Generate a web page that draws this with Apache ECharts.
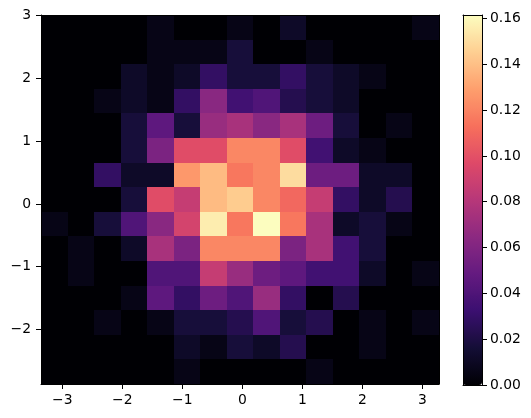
<!DOCTYPE html>
<html><head><meta charset="utf-8">
<script src="https://cdn.jsdelivr.net/npm/echarts@6/dist/echarts.min.js"></script>
<style>html,body{margin:0;padding:0;background:#fff}#chart{width:531px;height:418px}</style>
</head><body><div id="chart"></div>
<script>
// bin edges (x: left->right, y: bottom->top)
const xEdges = [-3.355, -2.913, -2.471, -2.028, -1.586, -1.144, -0.702, -0.259, 0.183, 0.625, 1.067, 1.510, 1.952, 2.394, 2.836, 3.278];
const yEdges = [-2.870, -2.478, -2.086, -1.694, -1.302, -0.910, -0.518, -0.126, 0.266, 0.658, 1.050, 1.442, 1.834, 2.226, 2.618, 3.010];
// density per bin, rows from top (high y) to bottom, columns left to right
const density = [
  [0,0,0,0,0.0058,0,0,0.0058,0,0.0115,0,0,0,0,0.0058],
  [0,0,0,0,0.0058,0.0058,0.0058,0.0173,0,0,0.0058,0,0,0,0],
  [0,0,0,0.0115,0.0058,0.0115,0.0288,0.0173,0.0173,0.0288,0.0173,0.0115,0.0058,0,0],
  [0,0,0.0058,0.0115,0.0058,0.0288,0.0635,0.0346,0.0404,0.0231,0.0173,0.0115,0,0,0],
  [0,0,0,0.0173,0.0462,0.0173,0.0692,0.0750,0.0635,0.0750,0.0519,0.0173,0,0.0058,0],
  [0,0,0,0.0173,0.0577,0.0981,0.0981,0.1211,0.1211,0.0981,0.0346,0.0115,0.0058,0,0],
  [0,0,0.0288,0.0115,0.0115,0.1269,0.1385,0.1154,0.1211,0.1500,0.0519,0.0519,0.0115,0.0115,0],
  [0,0,0,0.0173,0.0981,0.0865,0.1385,0.1442,0.1211,0.1096,0.0865,0.0288,0.0115,0.0231,0],
  [0.0058,0,0.0173,0.0404,0.0635,0.0923,0.1558,0.1154,0.1615,0.1154,0.0750,0.0115,0.0173,0.0058,0],
  [0,0.0058,0,0.0115,0.0750,0.0577,0.1211,0.1211,0.1211,0.0577,0.0750,0.0346,0.0173,0,0],
  [0,0.0058,0,0,0.0404,0.0404,0.0865,0.0692,0.0519,0.0462,0.0346,0.0346,0.0115,0,0.0058],
  [0,0,0,0.0058,0.0462,0.0288,0.0519,0.0404,0.0692,0.0288,0,0.0231,0,0,0],
  [0,0,0.0058,0,0.0058,0.0173,0.0173,0.0231,0.0404,0.0173,0.0231,0,0.0058,0,0.0058],
  [0,0,0,0,0,0.0115,0.0058,0.0173,0.0115,0.0231,0,0,0.0058,0,0],
  [0,0,0,0,0,0.0058,0,0,0,0,0.0058,0,0,0,0]
];
const xTicks = [-3, -2, -1, 0, 1, 2, 3];
const yTicks = [-2, -1, 0, 1, 2, 3];
const cbTicks = [0, 0.02, 0.04, 0.06, 0.08, 0.10, 0.12, 0.14, 0.16];
const vmax = 0.1615;
const magma = ['#000004','#140e36','#3b0f70','#641a80','#8c2981','#b73779','#de4968','#f7705c','#fe9f6d','#fecf92','#fcfdbf'];

const nRows = density.length;
const cells = [];
density.forEach((row, r) => row.forEach((v, c) => {
  cells.push([xEdges[c], xEdges[c + 1], yEdges[nRows - 1 - r], yEdges[nRows - r], v]);
}));

const font = { fontFamily: 'DejaVu Sans', fontSize: 13.9, color: '#000' };
const minusFmt = v => (v < 0 ? '\u2212' : '') + Math.abs(v);
const line = { show: true, onZero: false, lineStyle: { color: '#000', width: 1 } };
const bare = (extra) => Object.assign({
  type: 'value', axisLine: line, axisTick: { show: false }, axisLabel: { show: false },
  splitLine: { show: false }, z: 10
}, extra);

const chart = echarts.init(document.getElementById('chart'), null, { renderer: 'canvas' });
chart.setOption({
  animation: false,
  backgroundColor: '#fff',
  grid: [
    { left: 41, top: 15, width: 398, height: 369 },
    { left: 463, top: 15, width: 19, height: 370 }
  ],
  xAxis: [
    bare({ gridIndex: 0, min: xEdges[0], max: xEdges[xEdges.length - 1], position: 'bottom',
      axisTick: { show: true, inside: false, length: 5, customValues: xTicks, lineStyle: { color: '#000', width: 1 } },
      axisLabel: Object.assign({ show: true, customValues: xTicks, margin: 9, formatter: minusFmt }, font) }),
    bare({ gridIndex: 0, min: xEdges[0], max: xEdges[xEdges.length - 1], position: 'top' }),
    bare({ gridIndex: 1, min: 0, max: 1, position: 'bottom' }),
    bare({ gridIndex: 1, min: 0, max: 1, position: 'top' })
  ],
  yAxis: [
    bare({ gridIndex: 0, min: yEdges[0], max: yEdges[yEdges.length - 1], position: 'left',
      axisTick: { show: true, inside: false, length: 5, customValues: yTicks, lineStyle: { color: '#000', width: 1 } },
      axisLabel: Object.assign({ show: true, customValues: yTicks, margin: 10, formatter: minusFmt }, font) }),
    bare({ gridIndex: 0, min: yEdges[0], max: yEdges[yEdges.length - 1], position: 'right' }),
    bare({ gridIndex: 1, min: 0, max: vmax, position: 'left' }),
    bare({ gridIndex: 1, min: 0, max: vmax, position: 'right',
      axisTick: { show: true, inside: false, length: 5, customValues: cbTicks, lineStyle: { color: '#000', width: 1 } },
      axisLabel: Object.assign({ show: true, customValues: cbTicks, margin: 8, formatter: v => v.toFixed(2) }, font) })
  ],
  visualMap: {
    type: 'continuous', min: 0, max: vmax, dimension: 4, seriesIndex: 0,
    calculable: false, orient: 'vertical', left: 463, top: 15,
    itemWidth: 19, itemHeight: 370, padding: 0, text: null, hoverLink: false,
    inRange: { color: magma }
  },
  series: [{
    type: 'custom', xAxisIndex: 0, yAxisIndex: 0, clip: true,
    encode: { x: [0, 1], y: [2, 3] },
    data: cells,
    renderItem: (params, api) => {
      const p0 = api.coord([api.value(0), api.value(3)]);
      const p1 = api.coord([api.value(1), api.value(2)]);
      const x0 = Math.round(p0[0]), y0 = Math.round(p0[1]);
      const x1 = Math.round(p1[0]), y1 = Math.round(p1[1]);
      return { type: 'rect', shape: { x: x0, y: y0, width: x1 - x0, height: y1 - y0 },
        style: { fill: api.visual('color') } };
    }
  }]
});
</script></body></html>
